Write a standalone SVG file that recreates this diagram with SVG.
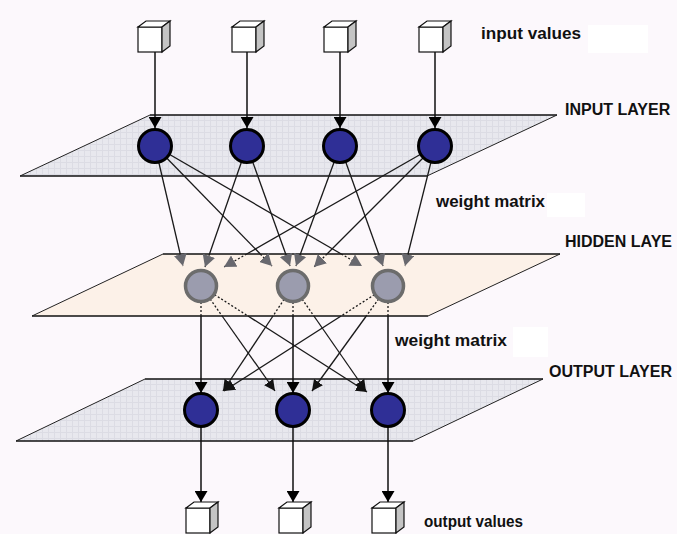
<svg xmlns="http://www.w3.org/2000/svg" width="677" height="534" viewBox="0 0 677 534">
  <style>
    .plane-edge { stroke: #111; stroke-width: 1.3; }
    .plane-side { stroke: #222; stroke-width: 1; fill: none; }
    .wire { stroke: #1a1a1a; stroke-width: 1.3; fill: none; }
    .wire-dot { stroke: #1a1a1a; stroke-width: 1.3; fill: none; stroke-dasharray: 2 2; }
    .feed { stroke: #111; stroke-width: 1.5; fill: none; }
    .unit { fill: #2f2f96; stroke: #000; stroke-width: 3; }
    .hid { fill: #9b9cae; stroke: #6c6c6c; stroke-width: 3.5; }
    .lbl { font-family: "Liberation Sans", Arial, sans-serif; font-weight: bold; fill: #111; }
    .lower { font-size: 16px; }
    .upper { font-size: 16px; }
  </style>
  <defs>
    <pattern id="grid" width="6" height="6" patternUnits="userSpaceOnUse">
      <rect width="6" height="6" fill="#e8e8ee"/>
      <path d="M0,0.5 H6 M0.5,0 V6" stroke="#dcdce4" stroke-width="1"/>
    </pattern>
    <marker id="tipBig" viewBox="0 0 11 13" refX="11" refY="6.5" markerWidth="11" markerHeight="13" markerUnits="userSpaceOnUse" orient="auto">
      <path d="M0,0 L11,6.5 L0,13 z" fill="#000"/>
    </marker>
    <marker id="tipK" viewBox="0 0 10 10" refX="10" refY="5" markerWidth="11" markerHeight="11" markerUnits="userSpaceOnUse" orient="auto">
      <path d="M0,0 L10,5 L0,10 z" fill="#111"/>
    </marker>
    <marker id="tipG" viewBox="0 0 10 11" refX="10" refY="5.5" markerWidth="12" markerHeight="13" markerUnits="userSpaceOnUse" orient="auto">
      <path d="M0,0 L10,5.5 L0,11 z" fill="#68686e"/>
    </marker>
    <g id="cube">
      <rect x="0" y="0" width="24" height="25" fill="#fff" stroke="#111" stroke-width="1.2"/>
      <polygon points="0,0 8,-6 32,-6 24,0" fill="#fff" stroke="#111" stroke-width="1.2"/>
      <polygon points="24,0 32,-6 32,19 24,25" fill="#c4c4c4" stroke="#111" stroke-width="1.2"/>
    </g>
  </defs>

  <!-- background -->
  <rect x="0" y="0" width="677" height="534" fill="#fcf8fc"/>
  <rect x="588" y="25" width="60" height="28" fill="#fff"/>
  <rect x="547" y="193" width="38" height="24" fill="#fff"/>
  <rect x="513" y="327" width="35" height="30" fill="#fff"/>

  <!-- layer planes -->
  <g id="input-layer-plane">
    <polygon points="150,115 557,115 427,176 20,176" fill="url(#grid)"/>
    <line class="plane-edge" x1="150" y1="115" x2="557" y2="115"/>
    <line class="plane-edge" x1="20" y1="176" x2="427" y2="176"/>
    <polyline class="plane-side" points="150,115 20,176"/>
    <polyline class="plane-side" points="557,115 427,176"/>
  </g>
  <g id="hidden-layer-plane">
    <polygon points="163,254 560,254 428,316 32,316" fill="#fcf1e8"/>
    <line class="plane-edge" x1="163" y1="254" x2="560" y2="254"/>
    <line class="plane-edge" x1="32" y1="316" x2="428" y2="316"/>
    <polyline class="plane-side" points="163,254 32,316"/>
    <polyline class="plane-side" points="560,254 428,316"/>
  </g>
  <g id="output-layer-plane">
    <polygon points="145,379 543,379 413,441 16,441" fill="url(#grid)"/>
    <line class="plane-edge" x1="145" y1="379" x2="543" y2="379"/>
    <line class="plane-edge" x1="16" y1="441" x2="413" y2="441"/>
    <polyline class="plane-side" points="145,379 16,441"/>
    <polyline class="plane-side" points="543,379 413,441"/>
  </g>

  <!-- connectors -->
  <g id="connectors">
    <!-- input values into input units -->
    <path class="feed" d="M155,52 V128" marker-end="url(#tipBig)"/>
    <path class="feed" d="M247,52 V128" marker-end="url(#tipBig)"/>
    <path class="feed" d="M340,52 V128" marker-end="url(#tipBig)"/>
    <path class="feed" d="M435,52 V128" marker-end="url(#tipBig)"/>

    <!-- input to hidden weights: solid above the plane, dotted on it -->
    <path class="wire" d="M155,146 L180.2,254"/><path class="wire-dot" d="M180.2,254 L183,266" marker-end="url(#tipG)"/>
    <path class="wire" d="M155,146 L260.3,254"/><path class="wire-dot" d="M260.3,254 L272,266" marker-end="url(#tipG)"/>
    <path class="wire" d="M155,146 L341.3,254"/><path class="wire-dot" d="M341.3,254 L362,266" marker-end="url(#tipG)"/>
    <path class="wire" d="M247,146 L209.5,254"/><path class="wire-dot" d="M209.5,254 L205,267" marker-end="url(#tipG)"/>
    <path class="wire" d="M247,146 L285.7,254"/><path class="wire-dot" d="M285.7,254 L290,266" marker-end="url(#tipG)"/>
    <path class="wire" d="M340,146 L300.4,254"/><path class="wire-dot" d="M300.4,254 L296,266" marker-end="url(#tipG)"/>
    <path class="wire" d="M340,146 L378.7,254"/><path class="wire-dot" d="M378.7,254 L383,266" marker-end="url(#tipG)"/>
    <path class="wire" d="M435,146 L246.7,254"/><path class="wire-dot" d="M246.7,254 L224,267" marker-end="url(#tipG)"/>
    <path class="wire" d="M435,146 L327,254"/><path class="wire-dot" d="M327,254 L314,267" marker-end="url(#tipG)"/>
    <path class="wire" d="M435,146 L408,254"/><path class="wire-dot" d="M408,254 L405,266" marker-end="url(#tipG)"/>

    <!-- hidden to output weights: dotted on the plane, solid below -->
    <path class="wire-dot" d="M201,286 L201,316"/><path class="feed" d="M201,316 L201,393" marker-end="url(#tipBig)"/>
    <path class="wire-dot" d="M201,286 L222.1,316"/><path class="wire" d="M222.1,316 L275,391" marker-end="url(#tipK)"/>
    <path class="wire-dot" d="M201,286 L248,316"/><path class="wire" d="M248,316 L367,392" marker-end="url(#tipK)"/>
    <path class="wire-dot" d="M293,286 L293,316"/><path class="feed" d="M293,316 L293,393" marker-end="url(#tipBig)"/>
    <path class="wire-dot" d="M293,286 L273,316"/><path class="wire" d="M273,316 L223,391" marker-end="url(#tipK)"/>
    <path class="wire-dot" d="M293,286 L313.9,316"/><path class="wire" d="M313.9,316 L366,391" marker-end="url(#tipK)"/>
    <path class="wire-dot" d="M388,286 L388,316"/><path class="feed" d="M388,316 L388,393" marker-end="url(#tipBig)"/>
    <path class="wire-dot" d="M388,286 L341.1,316"/><path class="wire" d="M341.1,316 L224,391" marker-end="url(#tipK)"/>
    <path class="wire-dot" d="M388,286 L366.3,316"/><path class="wire" d="M366.3,316 L312,391" marker-end="url(#tipK)"/>

    <!-- output units to output values -->
    <path class="feed" d="M201,427 V502" marker-end="url(#tipBig)"/>
    <path class="feed" d="M293,427 V502" marker-end="url(#tipBig)"/>
    <path class="feed" d="M388,427 V502" marker-end="url(#tipBig)"/>
  </g>

  <!-- input value cubes -->
  <g id="in-value-1"><use href="#cube" x="138" y="27"/></g>
  <g id="in-value-2"><use href="#cube" x="232" y="27"/></g>
  <g id="in-value-3"><use href="#cube" x="324" y="27"/></g>
  <g id="in-value-4"><use href="#cube" x="419" y="27"/></g>

  <!-- input units -->
  <g id="input-1"><circle class="unit" cx="155" cy="146" r="16.5"/></g>
  <g id="input-2"><circle class="unit" cx="247" cy="146" r="16.5"/></g>
  <g id="input-3"><circle class="unit" cx="340" cy="146" r="16.5"/></g>
  <g id="input-4"><circle class="unit" cx="435" cy="146" r="16.5"/></g>

  <!-- hidden units -->
  <g id="hidden-1"><circle class="hid" cx="201" cy="286" r="15.5"/></g>
  <g id="hidden-2"><circle class="hid" cx="293" cy="286" r="15.5"/></g>
  <g id="hidden-3"><circle class="hid" cx="388" cy="286" r="15.5"/></g>

  <!-- output units -->
  <g id="output-1"><circle class="unit" cx="201" cy="410" r="16.5"/></g>
  <g id="output-2"><circle class="unit" cx="293" cy="410" r="16.5"/></g>
  <g id="output-3"><circle class="unit" cx="388" cy="410" r="16.5"/></g>

  <!-- output value cubes -->
  <g id="out-value-1"><use href="#cube" x="186" y="508"/></g>
  <g id="out-value-2"><use href="#cube" x="279" y="508"/></g>
  <g id="out-value-3"><use href="#cube" x="372" y="508"/></g>

  <!-- labels -->
  <g id="labels">
    <text class="lbl lower" x="481" y="39" textLength="100" lengthAdjust="spacingAndGlyphs">input values</text>
    <text class="lbl upper" x="565" y="115">INPUT LAYER</text>
    <text class="lbl lower" x="436" y="207" textLength="109" lengthAdjust="spacingAndGlyphs">weight matrix</text>
    <text class="lbl upper" x="565" y="247">HIDDEN LAYE</text>
    <text class="lbl lower" x="395" y="346" textLength="112" lengthAdjust="spacingAndGlyphs">weight matrix</text>
    <text class="lbl upper" x="549" y="377">OUTPUT LAYER</text>
    <text class="lbl lower" x="424" y="527" textLength="99" lengthAdjust="spacingAndGlyphs">output values</text>
  </g>
</svg>
